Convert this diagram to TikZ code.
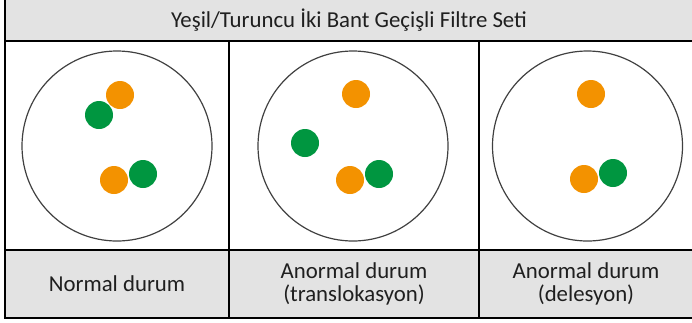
\documentclass[tikz,border=0pt]{standalone}
\usepackage{fontspec}
\setmainfont{Carlito}
\definecolor{dotorange}{RGB}{243,146,0}
\definecolor{dotgreen}{RGB}{0,150,64}
\definecolor{cellgray}{RGB}{227,227,227}

\begin{document}
\begin{tikzpicture}[x=1pt,y=-1pt,
  celltext/.style={font=\fontsize{22.8}{23}\selectfont,align=center,text=black!88},
  ring/.style={draw=black!75,line width=1.2pt},
  gridline/.style={line width=2pt}]
  \useasboundingbox (0,0) rectangle (692,322);
  \clip (0,0) rectangle (692,322);

  %gray rows
  \fill[cellgray] (5,-2) rectangle (694,41);
  \fill[cellgray] (5,250) rectangle (694,318);

  %table grid
  \draw[gridline] (5,-2) rectangle (694,318);
  \draw[gridline] (5,41) -- (694,41);
  \draw[gridline] (5,250) -- (694,250);
  \draw[gridline] (229,41) -- (229,318);
  \draw[gridline] (479,41) -- (479,318);

  %nuclei
  \foreach \cx in {117,353,587.5} {
    \draw[ring] (\cx,146) circle[radius=95];
  }

  %signals
  \foreach \x/\y/\c in {120/95/dotorange, 99/115/dotgreen, 114/180/dotorange, 143/174/dotgreen,
                        356/94/dotorange, 305/143/dotgreen, 350/180/dotorange, 379/174/dotgreen,
                        591/94/dotorange, 584/179/dotorange, 613/173/dotgreen} {
    \fill[\c] (\x,\y) circle[radius=14];
  }

  %labels
  \node[celltext] (title) at (349,20) {Yeşil/Turuncu İki Bant Geçişli Filtre Seti};
  \node[celltext] (normal) at (117,284) {Normal durum};
  \node[celltext] (transloc) at (354,284) {Anormal durum\\(translokasyon)};
  \node[celltext] (deletion) at (586,284) {Anormal durum\\(delesyon)};
\end{tikzpicture}
\end{document}
